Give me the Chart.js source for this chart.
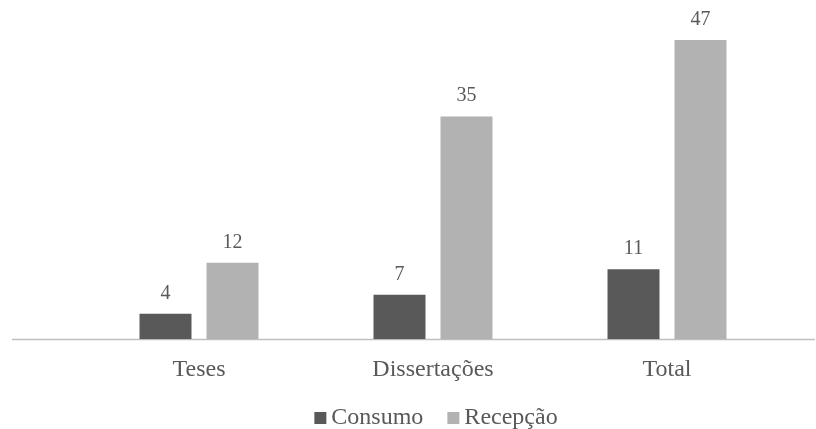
<!DOCTYPE html>
<html>
<head>
<meta charset="utf-8">
<script src="https://cdn.jsdelivr.net/npm/chart.js@4/dist/chart.umd.min.js"></script>
<style>
  html, body { margin: 0; padding: 0; background: #fff; }
  #wrap { width: 816px; height: 429px; }
</style>
</head>
<body>
<div id="wrap"><canvas id="chart"></canvas></div>
<script>
const categories = ['Teses', 'Dissertações', 'Total'];
const consumo = [4, 7, 11];
const recepcao = [12, 35, 47];
const seriesNames = ['Consumo', 'Recepção'];

const SERIF = "'Times New Roman', 'Liberation Serif', serif";
const TEXT = '#595959';

// value above each bar
const valueLabels = {
  id: 'valueLabels',
  afterDatasetsDraw(chart) {
    const ctx = chart.ctx;
    ctx.save();
    ctx.font = '20px ' + SERIF;
    ctx.fillStyle = TEXT;
    ctx.textAlign = 'center';
    ctx.textBaseline = 'alphabetic';
    chart.data.datasets.forEach((ds, i) => {
      chart.getDatasetMeta(i).data.forEach((bar, j) => {
        ctx.fillText(String(ds.data[j]), bar.x, bar.y - 15);
      });
    });
    ctx.restore();
  }
};

// long baseline running across the whole plot
const baseline = {
  id: 'baseline',
  beforeDatasetsDraw(chart) {
    const ctx = chart.ctx;
    const y = Math.round(chart.scales.y.getPixelForValue(0)) + 0.5;
    ctx.save();
    ctx.strokeStyle = '#bfbfbf';
    ctx.lineWidth = 1.5;
    ctx.beginPath();
    ctx.moveTo(12, y);
    ctx.lineTo(815, y);
    ctx.stroke();
    ctx.restore();
  }
};

// compact legend: square swatch close to the text
const bottomLegend = {
  id: 'bottomLegend',
  afterDraw(chart) {
    const ctx = chart.ctx;
    const box = 12, gap = 5, itemGap = 24;
    ctx.save();
    ctx.font = '24px ' + SERIF;
    const items = chart.data.datasets.map(ds => ({
      label: ds.label, color: ds.backgroundColor, w: ctx.measureText(ds.label).width
    }));
    let total = items.reduce((s, it) => s + box + gap + it.w, 0) + itemGap * (items.length - 1);
    const area = chart.chartArea;
    let x = (area.left + area.right) / 2 + 3 - total / 2;
    const base = 424;
    ctx.textBaseline = 'alphabetic';
    ctx.textAlign = 'left';
    items.forEach(it => {
      ctx.fillStyle = it.color;
      ctx.fillRect(x, base - box, box, box);
      x += box + gap;
      ctx.fillStyle = TEXT;
      ctx.fillText(it.label, x, base);
      x += it.w + itemGap;
    });
    ctx.restore();
  }
};

new Chart(document.getElementById('chart'), {
  type: 'bar',
  data: {
    labels: categories,
    datasets: [
      { label: seriesNames[0], data: consumo, backgroundColor: '#595959' },
      { label: seriesNames[1], data: recepcao, backgroundColor: '#b2b2b2' }
    ]
  },
  options: {
    responsive: true,
    maintainAspectRatio: false,
    animation: false,
    categoryPercentage: 0.5726,
    barPercentage: 0.776,
    layout: { padding: { left: 82, right: 32, top: 21, bottom: 29 } },
    plugins: {
      legend: { display: false },
      tooltip: { enabled: false }
    },
    scales: {
      y: { display: false, min: 0, max: 50 },
      x: {
        grid: { display: false, drawTicks: false },
        border: { display: false },
        ticks: { color: TEXT, padding: 16, font: { family: SERIF, size: 24 } }
      }
    }
  },
  plugins: [baseline, valueLabels, bottomLegend]
});
</script>
</body>
</html>
